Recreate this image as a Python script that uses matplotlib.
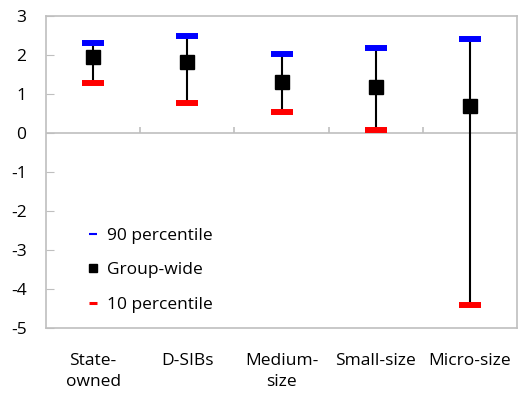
import numpy as np
import matplotlib.pyplot as plt
from matplotlib.lines import Line2D

plt.rcParams['font.family'] = ['Open Sans', 'DejaVu Sans']
plt.rcParams['axes.unicode_minus'] = False

# data
groups = ['State-\nowned', 'D-SIBs', 'Medium-\nsize', 'Small-size', 'Micro-size']
p90 = [2.32, 2.50, 2.03, 2.19, 2.42]
group_wide = [1.94, 1.81, 1.30, 1.17, 0.68]
p10 = [1.27, 0.78, 0.54, 0.08, -4.41]

x = np.arange(len(groups))
grey = '#bfbfbf'

fig = plt.figure(figsize=(5.18, 3.98), dpi=100)
ax = fig.add_axes([46/518, 70/398, 471/518, 312/398])

# range lines
ax.vlines(x, p10, p90, colors='black', lw=1.5, zorder=2)
ax.plot(x, group_wide, ls='none', marker='s', ms=9.4, color='black', zorder=3)
ax.plot(x, p90, ls='none', marker='_', ms=16.5, mew=4.3, color='#0000ff', zorder=4)
ax.plot(x, p10, ls='none', marker='_', ms=16.5, mew=4.3, color='#ff0000', zorder=4)

ax.set_xlim(-0.5, len(groups) - 0.5)
ax.set_ylim(-5, 3)
ax.set_yticks(range(-5, 4))
ax.tick_params(axis='y', direction='in', length=6, color=grey, labelsize=12.5, pad=14)
ax.set_xticks(x)
ax.set_xticklabels(groups, fontsize=12.5, linespacing=1.45)
ax.tick_params(axis='x', length=0, pad=18)
for spine in ax.spines.values():
    spine.set_color(grey)
    spine.set_linewidth(1.2)

# zero axis with category tick marks
ax.axhline(0, color=grey, lw=1.2, zorder=1)
ax.vlines(x[:-1] + 0.5, 0, 0.15, colors=grey, lw=1.2, zorder=1)

handles = [
    Line2D([], [], ls='none', marker='_', ms=6, mew=1.5, color='#0000ff'),
    Line2D([], [], ls='none', marker='s', ms=6, color='black'),
    Line2D([], [], ls='none', marker='_', ms=6, mew=2.2, color='#ff0000'),
]
ax.legend(handles, ['90 percentile', 'Group-wide', '10 percentile'],
          loc='center left', bbox_to_anchor=(0.055, 0.185), frameon=False,
          fontsize=12.5, labelspacing=1.05, handlelength=0.6, handletextpad=0.5)

fig.savefig('out.png', dpi=100)
